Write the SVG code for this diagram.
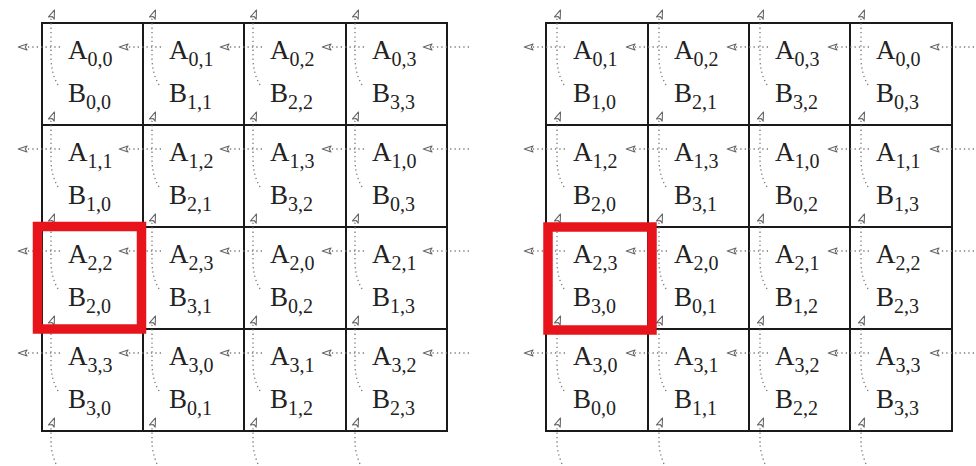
<svg xmlns="http://www.w3.org/2000/svg" width="976" height="466" viewBox="0 0 976 466">
<style>
.cell{fill:#fff;stroke:#1a1a1a;stroke-width:2}
.t{font-family:"Liberation Serif","Times New Roman",serif;font-size:27px;fill:#222}
.s{font-size:20px}
.d{fill:none;stroke:#7a7a7a;stroke-width:1.3;stroke-dasharray:1.3 3.1;marker-end:url(#ah)}
.hl{fill:none;stroke:#e8141b;stroke-width:9.5}
</style>
<defs>
<marker id="ah" markerUnits="userSpaceOnUse" markerWidth="12" markerHeight="10" refX="0" refY="0" viewBox="-1 -4 11 8" orient="auto" overflow="visible">
<path d="M8,0 L0,-2.8 L1.6,0 L0,2.8 Z" fill="#fff" stroke="#666" stroke-width="1" stroke-linejoin="round"/>
</marker>
</defs>
<rect width="976" height="466" fill="#fff"/>

<g id="left-grid">
<g id="L00"><rect class="cell" x="42" y="23" width="101" height="102"/><text class="t" x="68" y="59">A<tspan class="s" dy="7">0,0</tspan></text><text class="t" x="68" y="102">B<tspan class="s" dy="7">0,0</tspan></text></g>
<g id="L01"><rect class="cell" x="143" y="23" width="101" height="102"/><text class="t" x="169" y="59">A<tspan class="s" dy="7">0,1</tspan></text><text class="t" x="169" y="102">B<tspan class="s" dy="7">1,1</tspan></text></g>
<g id="L02"><rect class="cell" x="244" y="23" width="102" height="102"/><text class="t" x="270" y="59">A<tspan class="s" dy="7">0,2</tspan></text><text class="t" x="270" y="102">B<tspan class="s" dy="7">2,2</tspan></text></g>
<g id="L03"><rect class="cell" x="346" y="23" width="101" height="102"/><text class="t" x="372" y="59">A<tspan class="s" dy="7">0,3</tspan></text><text class="t" x="372" y="102">B<tspan class="s" dy="7">3,3</tspan></text></g>

<g id="L10"><rect class="cell" x="42" y="125" width="101" height="102"/><text class="t" x="68" y="161">A<tspan class="s" dy="7">1,1</tspan></text><text class="t" x="68" y="204">B<tspan class="s" dy="7">1,0</tspan></text></g>
<g id="L11"><rect class="cell" x="143" y="125" width="101" height="102"/><text class="t" x="169" y="161">A<tspan class="s" dy="7">1,2</tspan></text><text class="t" x="169" y="204">B<tspan class="s" dy="7">2,1</tspan></text></g>
<g id="L12"><rect class="cell" x="244" y="125" width="102" height="102"/><text class="t" x="270" y="161">A<tspan class="s" dy="7">1,3</tspan></text><text class="t" x="270" y="204">B<tspan class="s" dy="7">3,2</tspan></text></g>
<g id="L13"><rect class="cell" x="346" y="125" width="101" height="102"/><text class="t" x="372" y="161">A<tspan class="s" dy="7">1,0</tspan></text><text class="t" x="372" y="204">B<tspan class="s" dy="7">0,3</tspan></text></g>

<g id="L20"><rect class="cell" x="42" y="227" width="101" height="102"/><text class="t" x="68" y="263">A<tspan class="s" dy="7">2,2</tspan></text><text class="t" x="68" y="306">B<tspan class="s" dy="7">2,0</tspan></text></g>
<g id="L21"><rect class="cell" x="143" y="227" width="101" height="102"/><text class="t" x="169" y="263">A<tspan class="s" dy="7">2,3</tspan></text><text class="t" x="169" y="306">B<tspan class="s" dy="7">3,1</tspan></text></g>
<g id="L22"><rect class="cell" x="244" y="227" width="102" height="102"/><text class="t" x="270" y="263">A<tspan class="s" dy="7">2,0</tspan></text><text class="t" x="270" y="306">B<tspan class="s" dy="7">0,2</tspan></text></g>
<g id="L23"><rect class="cell" x="346" y="227" width="101" height="102"/><text class="t" x="372" y="263">A<tspan class="s" dy="7">2,1</tspan></text><text class="t" x="372" y="306">B<tspan class="s" dy="7">1,3</tspan></text></g>

<g id="L30"><rect class="cell" x="42" y="329" width="101" height="102"/><text class="t" x="68" y="365">A<tspan class="s" dy="7">3,3</tspan></text><text class="t" x="68" y="408">B<tspan class="s" dy="7">3,0</tspan></text></g>
<g id="L31"><rect class="cell" x="143" y="329" width="101" height="102"/><text class="t" x="169" y="365">A<tspan class="s" dy="7">3,0</tspan></text><text class="t" x="169" y="408">B<tspan class="s" dy="7">0,1</tspan></text></g>
<g id="L32"><rect class="cell" x="244" y="329" width="102" height="102"/><text class="t" x="270" y="365">A<tspan class="s" dy="7">3,1</tspan></text><text class="t" x="270" y="408">B<tspan class="s" dy="7">1,2</tspan></text></g>
<g id="L33"><rect class="cell" x="346" y="329" width="101" height="102"/><text class="t" x="372" y="365">A<tspan class="s" dy="7">3,2</tspan></text><text class="t" x="372" y="408">B<tspan class="s" dy="7">2,3</tspan></text></g>
</g>

<g id="right-grid">
<g id="R00"><rect class="cell" x="546" y="23" width="102" height="102"/><text class="t" x="573" y="59">A<tspan class="s" dy="7">0,1</tspan></text><text class="t" x="573" y="102">B<tspan class="s" dy="7">1,0</tspan></text></g>
<g id="R01"><rect class="cell" x="648" y="23" width="101" height="102"/><text class="t" x="674" y="59">A<tspan class="s" dy="7">0,2</tspan></text><text class="t" x="674" y="102">B<tspan class="s" dy="7">2,1</tspan></text></g>
<g id="R02"><rect class="cell" x="749" y="23" width="101" height="102"/><text class="t" x="775" y="59">A<tspan class="s" dy="7">0,3</tspan></text><text class="t" x="775" y="102">B<tspan class="s" dy="7">3,2</tspan></text></g>
<g id="R03"><rect class="cell" x="850" y="23" width="102" height="102"/><text class="t" x="876" y="59">A<tspan class="s" dy="7">0,0</tspan></text><text class="t" x="876" y="102">B<tspan class="s" dy="7">0,3</tspan></text></g>

<g id="R10"><rect class="cell" x="546" y="125" width="102" height="102"/><text class="t" x="573" y="161">A<tspan class="s" dy="7">1,2</tspan></text><text class="t" x="573" y="204">B<tspan class="s" dy="7">2,0</tspan></text></g>
<g id="R11"><rect class="cell" x="648" y="125" width="101" height="102"/><text class="t" x="674" y="161">A<tspan class="s" dy="7">1,3</tspan></text><text class="t" x="674" y="204">B<tspan class="s" dy="7">3,1</tspan></text></g>
<g id="R12"><rect class="cell" x="749" y="125" width="101" height="102"/><text class="t" x="775" y="161">A<tspan class="s" dy="7">1,0</tspan></text><text class="t" x="775" y="204">B<tspan class="s" dy="7">0,2</tspan></text></g>
<g id="R13"><rect class="cell" x="850" y="125" width="102" height="102"/><text class="t" x="876" y="161">A<tspan class="s" dy="7">1,1</tspan></text><text class="t" x="876" y="204">B<tspan class="s" dy="7">1,3</tspan></text></g>

<g id="R20"><rect class="cell" x="546" y="227" width="102" height="102"/><text class="t" x="573" y="263">A<tspan class="s" dy="7">2,3</tspan></text><text class="t" x="573" y="306">B<tspan class="s" dy="7">3,0</tspan></text></g>
<g id="R21"><rect class="cell" x="648" y="227" width="101" height="102"/><text class="t" x="674" y="263">A<tspan class="s" dy="7">2,0</tspan></text><text class="t" x="674" y="306">B<tspan class="s" dy="7">0,1</tspan></text></g>
<g id="R22"><rect class="cell" x="749" y="227" width="101" height="102"/><text class="t" x="775" y="263">A<tspan class="s" dy="7">2,1</tspan></text><text class="t" x="775" y="306">B<tspan class="s" dy="7">1,2</tspan></text></g>
<g id="R23"><rect class="cell" x="850" y="227" width="102" height="102"/><text class="t" x="876" y="263">A<tspan class="s" dy="7">2,2</tspan></text><text class="t" x="876" y="306">B<tspan class="s" dy="7">2,3</tspan></text></g>

<g id="R30"><rect class="cell" x="546" y="329" width="102" height="102"/><text class="t" x="573" y="365">A<tspan class="s" dy="7">3,0</tspan></text><text class="t" x="573" y="408">B<tspan class="s" dy="7">0,0</tspan></text></g>
<g id="R31"><rect class="cell" x="648" y="329" width="101" height="102"/><text class="t" x="674" y="365">A<tspan class="s" dy="7">3,1</tspan></text><text class="t" x="674" y="408">B<tspan class="s" dy="7">1,1</tspan></text></g>
<g id="R32"><rect class="cell" x="749" y="329" width="101" height="102"/><text class="t" x="775" y="365">A<tspan class="s" dy="7">3,2</tspan></text><text class="t" x="775" y="408">B<tspan class="s" dy="7">2,2</tspan></text></g>
<g id="R33"><rect class="cell" x="850" y="329" width="102" height="102"/><text class="t" x="876" y="365">A<tspan class="s" dy="7">3,3</tspan></text><text class="t" x="876" y="408">B<tspan class="s" dy="7">3,3</tspan></text></g>
</g>

<g id="connectors">
<path class="d" d="M60 47H27"/><path class="d" d="M161 47H128"/><path class="d" d="M262 47H229"/><path class="d" d="M364 47H331"/><path class="d" d="M469 47H432"/>
<path class="d" d="M60 149H27"/><path class="d" d="M161 149H128"/><path class="d" d="M262 149H229"/><path class="d" d="M364 149H331"/><path class="d" d="M469 149H432"/>
<path class="d" d="M60 251H27"/><path class="d" d="M161 251H128"/><path class="d" d="M262 251H229"/><path class="d" d="M364 251H331"/><path class="d" d="M469 251H432"/>
<path class="d" d="M60 353H27"/><path class="d" d="M161 353H128"/><path class="d" d="M262 353H229"/><path class="d" d="M364 353H331"/><path class="d" d="M469 353H432"/>
<path class="d" d="M58 85Q51 73 51 57V19l0.36 -0.93"/><path class="d" d="M58 187Q51 175 51 159V121l0.36 -0.93"/><path class="d" d="M58 289Q51 277 51 261V223l0.36 -0.93"/><path class="d" d="M58 391Q51 379 51 363V325l0.36 -0.93"/><path class="d" d="M56 464Q51 452 51 442V427l0.36 -0.93"/>
<path class="d" d="M159 85Q152 73 152 57V19l0.36 -0.93"/><path class="d" d="M159 187Q152 175 152 159V121l0.36 -0.93"/><path class="d" d="M159 289Q152 277 152 261V223l0.36 -0.93"/><path class="d" d="M159 391Q152 379 152 363V325l0.36 -0.93"/><path class="d" d="M157 464Q152 452 152 442V427l0.36 -0.93"/>
<path class="d" d="M260 85Q253 73 253 57V19l0.36 -0.93"/><path class="d" d="M260 187Q253 175 253 159V121l0.36 -0.93"/><path class="d" d="M260 289Q253 277 253 261V223l0.36 -0.93"/><path class="d" d="M260 391Q253 379 253 363V325l0.36 -0.93"/><path class="d" d="M258 464Q253 452 253 442V427l0.36 -0.93"/>
<path class="d" d="M362 85Q355 73 355 57V19l0.36 -0.93"/><path class="d" d="M362 187Q355 175 355 159V121l0.36 -0.93"/><path class="d" d="M362 289Q355 277 355 261V223l0.36 -0.93"/><path class="d" d="M362 391Q355 379 355 363V325l0.36 -0.93"/><path class="d" d="M360 464Q355 452 355 442V427l0.36 -0.93"/>
<path class="d" d="M565 47H533"/><path class="d" d="M667 47H635"/><path class="d" d="M768 47H736"/><path class="d" d="M869 47H837"/><path class="d" d="M974 47H939"/>
<path class="d" d="M565 149H533"/><path class="d" d="M667 149H635"/><path class="d" d="M768 149H736"/><path class="d" d="M869 149H837"/><path class="d" d="M974 149H939"/>
<path class="d" d="M565 251H533"/><path class="d" d="M667 251H635"/><path class="d" d="M768 251H736"/><path class="d" d="M869 251H837"/><path class="d" d="M974 251H939"/>
<path class="d" d="M565 353H533"/><path class="d" d="M667 353H635"/><path class="d" d="M768 353H736"/><path class="d" d="M869 353H837"/><path class="d" d="M974 353H939"/>
<path class="d" d="M564 85Q557 73 557 57V19l0.36 -0.93"/><path class="d" d="M564 187Q557 175 557 159V121l0.36 -0.93"/><path class="d" d="M564 289Q557 277 557 261V223l0.36 -0.93"/><path class="d" d="M564 391Q557 379 557 363V325l0.36 -0.93"/><path class="d" d="M562 464Q557 452 557 442V427l0.36 -0.93"/>
<path class="d" d="M666 85Q659 73 659 57V19l0.36 -0.93"/><path class="d" d="M666 187Q659 175 659 159V121l0.36 -0.93"/><path class="d" d="M666 289Q659 277 659 261V223l0.36 -0.93"/><path class="d" d="M666 391Q659 379 659 363V325l0.36 -0.93"/><path class="d" d="M664 464Q659 452 659 442V427l0.36 -0.93"/>
<path class="d" d="M767 85Q760 73 760 57V19l0.36 -0.93"/><path class="d" d="M767 187Q760 175 760 159V121l0.36 -0.93"/><path class="d" d="M767 289Q760 277 760 261V223l0.36 -0.93"/><path class="d" d="M767 391Q760 379 760 363V325l0.36 -0.93"/><path class="d" d="M765 464Q760 452 760 442V427l0.36 -0.93"/>
<path class="d" d="M868 85Q861 73 861 57V19l0.36 -0.93"/><path class="d" d="M868 187Q861 175 861 159V121l0.36 -0.93"/><path class="d" d="M868 289Q861 277 861 261V223l0.36 -0.93"/><path class="d" d="M868 391Q861 379 861 363V325l0.36 -0.93"/><path class="d" d="M866 464Q861 452 861 442V427l0.36 -0.93"/>
</g>

<g id="highlight-left"><rect class="hl" x="37.5" y="226.5" width="104" height="102.5"/></g>
<g id="highlight-right"><rect class="hl" x="548" y="227" width="104" height="103"/></g>
</svg>
